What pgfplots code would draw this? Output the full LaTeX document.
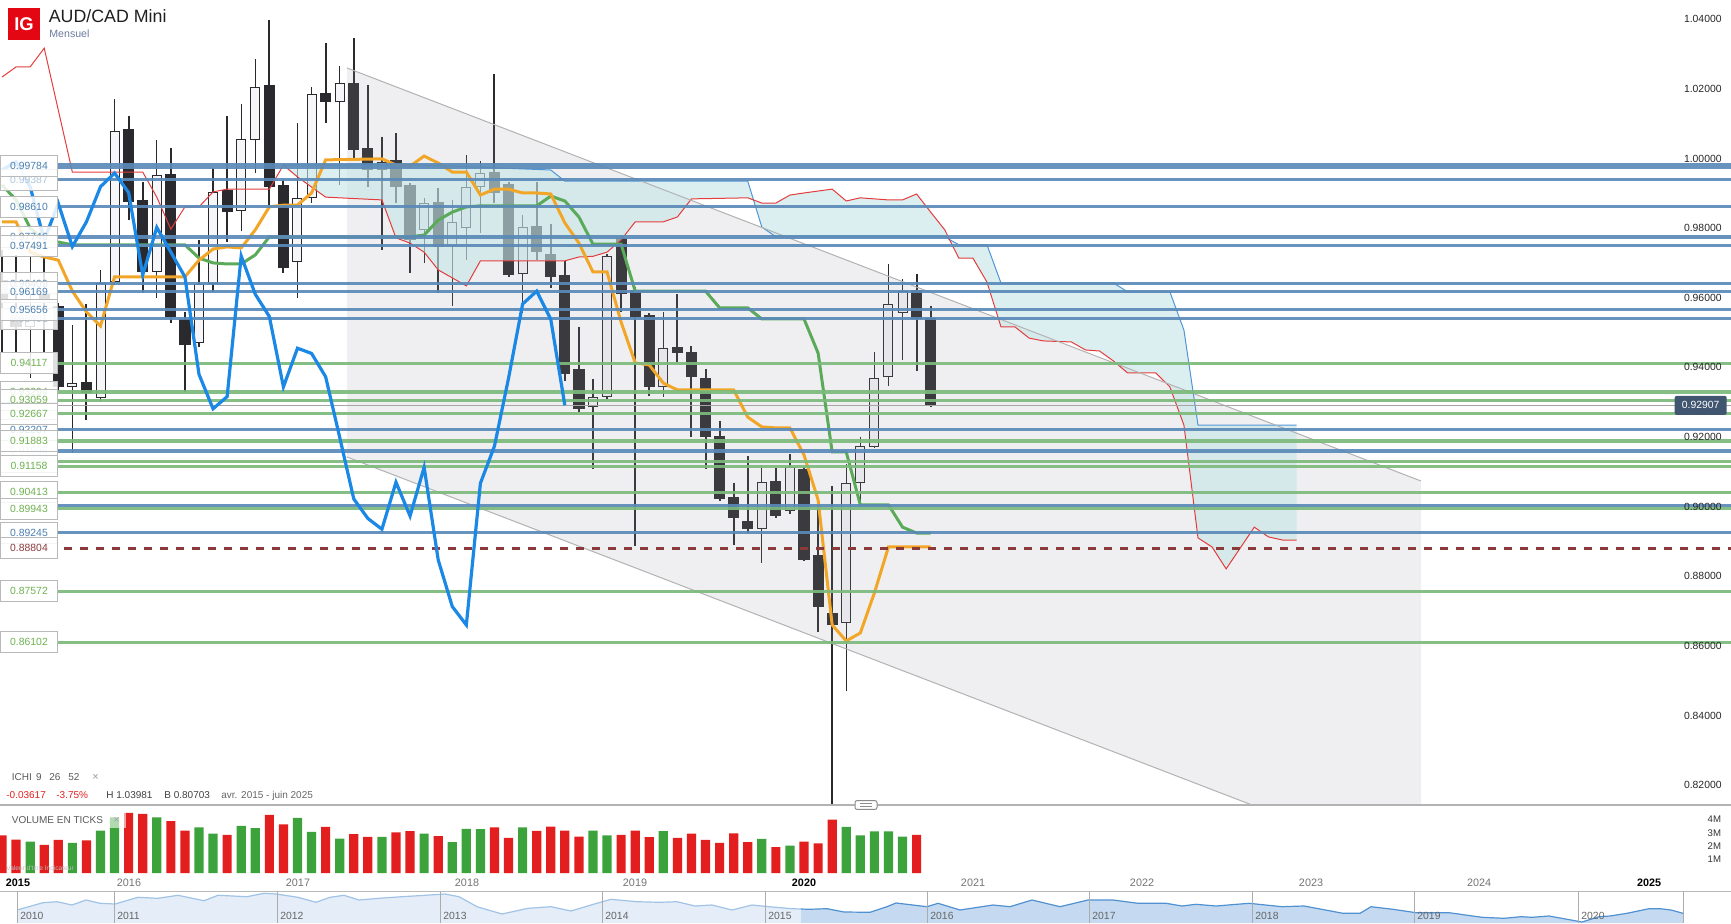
\documentclass[border=0pt]{standalone}
\usepackage{fontspec}
\setmainfont{Liberation Sans}
\usepackage{pgfplots}
\pgfplotsset{compat=1.18}

\definecolor{cblack}{RGB}{42,42,46}
\definecolor{cwhite}{RGB}{246,246,248}
\definecolor{corange}{RGB}{242,166,40}
\definecolor{ckijun}{RGB}{90,170,90}
\definecolor{cchikou}{RGB}{28,136,230}
\definecolor{cspanA}{RGB}{228,60,60}
\definecolor{cspanB}{RGB}{80,150,215}
\definecolor{ccloud}{RGB}{196,228,230}
\definecolor{cchan}{RGB}{150,150,165}
\definecolor{lblue}{RGB}{90,138,184}
\definecolor{lgreen}{RGB}{124,186,124}
\definecolor{tblue}{RGB}{74,127,176}
\definecolor{tgreen}{RGB}{110,178,80}
\definecolor{dred}{RGB}{139,58,58}
\definecolor{vgreen}{RGB}{60,163,60}
\definecolor{vred}{RGB}{227,30,30}
\definecolor{navlight}{RGB}{228,237,248}
\definecolor{navdark}{RGB}{197,218,240}
\definecolor{navl1}{RGB}{160,195,230}
\definecolor{navl2}{RGB}{80,145,210}
\definecolor{igred}{RGB}{227,6,19}
\definecolor{pricebox}{RGB}{63,85,112}

\newcommand{\fs}[1]{\fontsize{#1}{#1}\selectfont}

\newcommand{\lvl}[3]{\addplot[forget plot, line width=#2, draw=#3, opacity=0.92] coordinates {(6.908,#1) (126,#1)};}
\newcommand{\lab}[3]{\node[anchor=west, draw=gray!55, line width=0.5pt, fill=white, fill opacity=0.85, text opacity=1, minimum width=28.5pt, minimum height=10.5pt, inner sep=0pt, text=#2, font=\fs{5.2}] at (axis cs:2.857,#1) {#3};}
\newcommand{\rlab}[2]{\node[anchor=east, inner sep=0pt, text=black!85, font=\fs{5.2}] at (axis cs:125.24,#1) {#2};}

\begin{document}
\begin{tikzpicture}
\useasboundingbox (0,0) rectangle (865.5pt,461.5pt);

% ================= NAVIGATOR =================
\begin{axis}[at={(0pt,0pt)}, anchor=south west, scale only axis,
  width=865.5pt, height=16pt, xmin=0, xmax=1731, ymin=891, ymax=923,
  y dir=reverse, hide axis, clip=true]
\addplot[fill=navlight, draw=none] coordinates {(17,910) (43,902.7) (57,901.7) (72,905) (86,900) (100,903.3) (115,904) (138,897.3) (158,898.3) (178,895.3) (204,900.7) (218,895.3) (247,896.7) (264,893.3) (276,894) (298,897.3) (316,902.3) (330,897.3) (344,895.3) (359,900) (379,898.3) (402,896.7) (425,895.3) (445,894) (459,896.7) (477,906.7) (502,914) (528,908.3) (551,906.7) (571,911) (591,905) (611,899.3) (637,901.7) (660,902.3) (677,901.7) (695,906) (712,905) (732,910) (752,905) (769,906.7) (792,908.7) (801,909) (801,923) (17,923)};
\addplot[fill=navdark, draw=none] coordinates {(801,909) (809,909.3) (827,908.7) (844,912) (870,912.3) (887,906.7) (896,903) (927,906.7) (938,903.3) (960,910) (993,905) (1010,906.7) (1032,900) (1060,906.7) (1088,900) (1113,900) (1138,903.3) (1166,903.3) (1182,906) (1196,904.3) (1216,906) (1249,903.3) (1282,906.7) (1304,906) (1343,913.3) (1360,913.3) (1371,906.7) (1393,909.3) (1416,912.7) (1449,912.7) (1482,917.3) (1504,918.3) (1521,916.7) (1532,917.3) (1549,916) (1571,920) (1582,922) (1599,916.7) (1610,916) (1627,913.3) (1649,908.7) (1660,908.7) (1671,910) (1683,913.3) (1683,923) (801,923)};
\addplot[draw=navl1, line width=0.6pt] coordinates {(17,910) (43,902.7) (57,901.7) (72,905) (86,900) (100,903.3) (115,904) (138,897.3) (158,898.3) (178,895.3) (204,900.7) (218,895.3) (247,896.7) (264,893.3) (276,894) (298,897.3) (316,902.3) (330,897.3) (344,895.3) (359,900) (379,898.3) (402,896.7) (425,895.3) (445,894) (459,896.7) (477,906.7) (502,914) (528,908.3) (551,906.7) (571,911) (591,905) (611,899.3) (637,901.7) (660,902.3) (677,901.7) (695,906) (712,905) (732,910) (752,905) (769,906.7) (792,908.7) (801,909)};
\addplot[draw=navl2, line width=0.6pt] coordinates {(801,909) (809,909.3) (827,908.7) (844,912) (870,912.3) (887,906.7) (896,903) (927,906.7) (938,903.3) (960,910) (993,905) (1010,906.7) (1032,900) (1060,906.7) (1088,900) (1113,900) (1138,903.3) (1166,903.3) (1182,906) (1196,904.3) (1216,906) (1249,903.3) (1282,906.7) (1304,906) (1343,913.3) (1360,913.3) (1371,906.7) (1393,909.3) (1416,912.7) (1449,912.7) (1482,917.3) (1504,918.3) (1521,916.7) (1532,917.3) (1549,916) (1571,920) (1582,922) (1599,916.7) (1610,916) (1627,913.3) (1649,908.7) (1660,908.7) (1671,910) (1683,913.3)};
\addplot[draw=gray!55, line width=0.6pt] coordinates {(0,891.3) (1731,891.3)};
\pgfplotsinvokeforeach{17,114,277,440,602,765,927,1089,1252,1414,1578,1683}{
  \addplot[draw=gray!65, line width=0.5pt] coordinates {(#1,891.3) (#1,923)};
}
\end{axis}
\foreach \xx/\yy in {20/2010,117/2011,280/2012,443/2013,605/2014,768/2015,930/2016,1092/2017,1255/2018,1417/2019,1581/2020}{
  \node[anchor=base west, inner sep=0pt, text=black!60, font=\fs{5.2}] at (\xx*0.5pt,2pt) {\yy};
}

% ================= VOLUME =================
\begin{axis}[at={(0pt,25pt)}, anchor=south west, scale only axis,
  width=865.5pt, height=34pt, xmin=2.857, xmax=125.88, ymin=0, ymax=5.075,
  hide axis, clip=true]
\addplot[ybar, bar width=4.6pt, bar shift=0pt, fill=vgreen, draw=none] coordinates {(5,2.35) (8,2.25) (10,3.17) (11,4.16) (14,4.16) (17,3.40) (18,2.93) (20,3.52) (21,3.34) (24,4.12) (25,3.07) (27,2.57) (30,2.70) (33,2.93) (35,2.30) (36,3.30) (37,3.27) (40,3.40) (45,3.17) (46,2.80) (50,3.12) (57,2.55) (59,2.05) (63,3.45) (64,2.80) (65,3.10) (66,3.10) (67,2.72)};
\addplot[ybar, bar width=4.6pt, bar shift=0pt, fill=vred, draw=none] coordinates {(3,2.80) (4,2.50) (6,2.10) (7,2.48) (9,2.43) (12,4.49) (13,4.42) (15,3.87) (16,3.17) (19,2.85) (22,4.34) (23,3.62) (26,3.45) (28,2.90) (29,2.70) (31,3.04) (32,3.12) (34,2.75) (38,3.40) (39,2.63) (41,3.15) (42,3.47) (43,3.17) (44,2.72) (47,2.85) (48,3.17) (49,2.67) (51,2.63) (52,2.93) (53,2.48) (54,2.25) (55,2.95) (56,2.30) (58,1.93) (60,2.35) (61,2.22) (62,3.99) (68,2.85)};
\node[anchor=east, inner sep=0pt, text=black!80, font=\fs{4.8}] at (axis cs:125.2,1) {1M};
\node[anchor=east, inner sep=0pt, text=black!80, font=\fs{4.8}] at (axis cs:125.2,2) {2M};
\node[anchor=east, inner sep=0pt, text=black!80, font=\fs{4.8}] at (axis cs:125.2,3) {3M};
\node[anchor=east, inner sep=0pt, text=black!80, font=\fs{4.8}] at (axis cs:125.2,4) {4M};
\end{axis}

% ================= MAIN PRICE PANEL =================
\begin{axis}[at={(0pt,59pt)}, anchor=south west, scale only axis,
  width=865.5pt, height=402.5pt, xmin=2.857, xmax=125.88, ymin=0.81428, ymax=1.04553,
  hide axis, clip=true]

% --- black (down) candles: wicks (high-low), bodies (open-close)
\addplot[draw=cblack, line width=1pt, unbounded coords=jump, forget plot] coordinates {
(3,0.9737)(3,0.9441)(3,nan) (4,0.9723)(4,0.9441)(4,nan) (6,0.9717)(6,0.9441)(6,nan) (7,0.9585)(7,0.9335)(7,nan)
(9,0.9582)(9,0.9249)(9,nan) (12,1.0122)(12,0.9823)(12,nan) (13,0.9933)(13,0.9613)(13,nan) (15,1.0029)(15,0.9527)(15,nan)
(16,0.9560)(16,0.9330)(16,nan) (19,1.0122)(19,0.9761)(19,nan) (22,1.0398)(22,0.9866)(22,nan) (23,0.9938)(23,0.9670)(23,nan)
(26,1.0331)(26,1.0103)(26,nan) (28,1.0345)(28,0.9996)(28,nan) (29,1.0211)(29,0.9919)(29,nan) (31,1.0072)(31,0.9871)(31,nan)
(32,0.9930)(32,0.9670)(32,nan) (34,0.9914)(34,0.9613)(34,nan) (38,1.0243)(38,0.9873)(38,nan) (39,0.9933)(39,0.9660)(39,nan)
(41,0.9933)(41,0.9708)(41,nan) (42,0.9812)(42,0.9627)(42,nan) (43,0.9706)(43,0.9362)(43,nan) (44,0.9517)(44,0.9273)(44,nan)
(47,0.9777)(47,0.9560)(47,nan) (48,0.9630)(48,0.8888)(48,nan) (49,0.9556)(49,0.9318)(49,nan) (51,0.9610)(51,0.9415)(51,nan)
(52,0.9461)(52,0.9201)(52,nan) (53,0.9394)(53,0.9107)(53,nan) (54,0.9246)(54,0.9016)(54,nan) (55,0.9069)(55,0.8890)(55,nan)
(56,0.9145)(56,0.8923)(56,nan) (58,0.9112)(58,0.8966)(58,nan) (60,0.9115)(60,0.8845)(60,nan) (61,0.9002)(61,0.8641)(61,nan)
(62,0.9059)(62,0.8070)(62,nan) (68,0.9668)(68,0.9390)(68,nan) (69,0.9576)(69,0.9287)};
\addplot[draw=cblack, line width=5.6pt, unbounded coords=jump, forget plot] coordinates {
(3,0.9651)(3,0.9594)(3,nan) (4,0.9545)(4,0.9516)(4,nan) (6,0.9614)(6,0.9594)(6,nan) (7,0.9576)(7,0.9344)(7,nan)
(9,0.9358)(9,0.9326)(9,nan) (12,1.0084)(12,0.9876)(12,nan) (13,0.9881)(13,0.9675)(13,nan) (15,0.9956)(15,0.9544)(15,nan)
(16,0.9538)(16,0.9464)(16,nan) (19,0.9910)(19,0.9847)(19,nan) (22,1.0210)(22,0.9919)(22,nan) (23,0.9923)(23,0.9685)(23,nan)
(26,1.0187)(26,1.0161)(26,nan) (28,1.0216)(28,1.0024)(28,nan) (29,1.0029)(29,0.9967)(29,nan) (31,0.9996)(31,0.9919)(31,nan)
(32,0.9924)(32,0.9766)(32,nan) (34,0.9876)(34,0.9747)(34,nan) (38,0.9960)(38,0.9902)(38,nan) (39,0.9927)(39,0.9665)(39,nan)
(41,0.9806)(41,0.9731)(41,nan) (42,0.9726)(42,0.9660)(42,nan) (43,0.9665)(43,0.9380)(43,nan) (44,0.9395)(44,0.9281)(44,nan)
(47,0.9771)(47,0.9610)(47,nan) (48,0.9622)(48,0.9546)(48,nan) (49,0.9550)(49,0.9344)(49,nan) (51,0.9459)(51,0.9440)(51,nan)
(52,0.9443)(52,0.9373)(52,nan) (53,0.9369)(53,0.9199)(53,nan) (54,0.9203)(54,0.9022)(54,nan) (55,0.9027)(55,0.8966)(55,nan)
(56,0.8959)(56,0.8935)(56,nan) (58,0.9074)(58,0.8973)(58,nan) (60,0.9108)(60,0.8847)(60,nan) (61,0.8861)(61,0.8713)(61,nan)
(62,0.8694)(62,0.8660)(62,nan) (68,0.9622)(68,0.9538)(68,nan) (69,0.9541)(69,0.9291)};

% --- white (up) candles: wicks, outline body, inner fill
\addplot[draw=cblack, line width=0.6pt, unbounded coords=jump, forget plot] coordinates {
(5,0.9717)(5,0.9369)(5,nan) (8,0.9522)(8,0.9154)(8,nan) (10,0.9680)(10,0.9301)(10,nan) (11,1.0170)(11,0.9637)(11,nan)
(14,1.0053)(14,0.9598)(14,nan) (17,0.9766)(17,0.9459)(17,nan) (18,0.9972)(18,0.9617)(18,nan) (20,1.0157)(20,0.9793)(20,nan)
(21,1.0285)(21,0.9958)(21,nan) (24,1.0101)(24,0.9598)(24,nan) (25,1.0205)(25,0.9873)(25,nan) (27,1.0266)(27,0.9924)(27,nan)
(30,1.0063)(30,0.9737)(30,nan) (33,0.9886)(33,0.9699)(33,nan) (35,0.9881)(35,0.9576)(35,nan) (36,1.0010)(36,0.9708)(36,nan)
(37,0.9993)(37,0.9785)(37,nan) (40,0.9838)(40,0.9555)(40,nan) (45,0.9366)(45,0.9107)(45,nan) (46,0.9726)(46,0.9310)(46,nan)
(50,0.9560)(50,0.9316)(50,nan) (57,0.9120)(57,0.8837)(57,nan) (59,0.9151)(59,0.8979)(59,nan) (63,0.9122)(63,0.8471)(63,nan)
(64,0.9201)(64,0.9010)(64,nan) (65,0.9445)(65,0.9168)(65,nan) (66,0.9697)(66,0.9346)(66,nan) (67,0.9653)(67,0.9421)};
\addplot[draw=cblack, line width=5pt, unbounded coords=jump, forget plot] coordinates {
(5,0.9516)(5,0.9542)(5,nan) (8,0.9344)(8,0.9355)(8,nan) (10,0.9312)(10,0.9642)(10,nan) (11,0.9644)(11,1.0080)(11,nan)
(14,0.9675)(14,0.9952)(14,nan) (17,0.9469)(17,0.9640)(17,nan) (18,0.9640)(18,0.9905)(18,nan) (20,0.9850)(20,1.0055)(20,nan)
(21,1.0053)(21,1.0206)(21,nan) (24,0.9702)(24,0.9886)(24,nan) (25,0.9886)(25,1.0184)(25,nan) (27,1.0161)(27,1.0216)(27,nan)
(30,0.9967)(30,0.9990)(30,nan) (33,0.9795)(33,0.9871)(33,nan) (35,0.9749)(35,0.9818)(35,nan) (36,0.9800)(36,0.9919)(36,nan)
(37,0.9917)(37,0.9958)(37,nan) (40,0.9667)(40,0.9802)(40,nan) (45,0.9285)(45,0.9316)(45,nan) (46,0.9316)(46,0.9720)(46,nan)
(50,0.9344)(50,0.9455)(50,nan) (57,0.8935)(57,0.9070)(57,nan) (59,0.8988)(59,0.9113)(59,nan) (63,0.8665)(63,0.9067)(63,nan)
(64,0.9067)(64,0.9174)(64,nan) (65,0.9172)(65,0.9369)(65,nan) (66,0.9371)(66,0.9582)(66,nan) (67,0.9557)(67,0.9619)};
\addplot[draw=cwhite, line width=4pt, unbounded coords=jump, forget plot] coordinates {
(5,0.9519)(5,0.9539)(5,nan) (8,0.9347)(8,0.9352)(8,nan) (10,0.9315)(10,0.9639)(10,nan) (11,0.9647)(11,1.0077)(11,nan)
(14,0.9678)(14,0.9949)(14,nan) (17,0.9472)(17,0.9637)(17,nan) (18,0.9643)(18,0.9902)(18,nan) (20,0.9853)(20,1.0052)(20,nan)
(21,1.0056)(21,1.0203)(21,nan) (24,0.9705)(24,0.9883)(24,nan) (25,0.9889)(25,1.0181)(25,nan) (27,1.0164)(27,1.0213)(27,nan)
(30,0.9970)(30,0.9987)(30,nan) (33,0.9798)(33,0.9868)(33,nan) (35,0.9752)(35,0.9815)(35,nan) (36,0.9803)(36,0.9916)(36,nan)
(37,0.9920)(37,0.9955)(37,nan) (40,0.9670)(40,0.9799)(40,nan) (45,0.9288)(45,0.9313)(45,nan) (46,0.9319)(46,0.9717)(46,nan)
(50,0.9347)(50,0.9452)(50,nan) (57,0.8938)(57,0.9067)(57,nan) (59,0.8991)(59,0.9110)(59,nan) (63,0.8668)(63,0.9064)(63,nan)
(64,0.9070)(64,0.9171)(64,nan) (65,0.9175)(65,0.9366)(65,nan) (66,0.9374)(66,0.9579)(66,nan) (67,0.9560)(67,0.9616)};

% regression channel (area)
\addplot[fill=cchan, fill opacity=0.15, draw=none, forget plot] coordinates {(27.52,1.0260) (103.85,0.90735) (103.85,0.81428) (91.84,0.81428) (27.52,0.91425)};

% ichimoku cloud (span B forward, span A back)
\addplot[fill=ccloud, fill opacity=0.6, draw=none, forget plot] coordinates {(23,0.9981) (33,0.9981) (42,0.9967) (43,0.9935) (56,0.9935) (57,0.9803) (58,0.9775) (70,0.9775) (71,0.9752) (73,0.9752) (74,0.9642) (82,0.9642) (83,0.9617) (86,0.9617) (87,0.9507) (88,0.9234) (95,0.9234)
(95,0.8904) (94,0.8904) (93,0.8913) (92,0.8941) (91,0.8881) (90,0.8821) (89,0.8884) (88,0.8910) (87,0.9234) (86,0.9344) (85,0.9384) (83,0.9384) (82,0.9418) (81,0.9447) (80,0.9450) (79,0.9473) (77,0.9476) (76,0.9484) (75,0.9516) (74,0.9516) (73,0.9645) (72,0.9714) (71,0.9714) (70,0.9795) (69,0.9846) (68,0.9898) (67,0.9881) (66,0.9881) (64,0.9887) (63,0.9878) (62,0.9912) (60,0.9901) (59,0.9895) (58,0.9872) (57,0.9872) (56,0.9887) (52,0.9884) (51,0.9832) (50,0.9818) (48,0.9818) (47,0.9766) (46,0.9731) (45,0.9719) (44,0.9717) (43,0.9706) (37,0.9706) (36,0.9634) (35,0.9657) (34,0.9680) (33,0.9731) (32,0.9757) (31,0.9772) (30,0.9881) (26,0.9889) (24,0.9947) (23,0.9981)};
\addplot[draw=cspanB, line width=0.5pt, forget plot] coordinates {(23,0.9981) (33,0.9981) (42,0.9967) (43,0.9935) (56,0.9935) (57,0.9803) (58,0.9775) (70,0.9775) (71,0.9752) (73,0.9752) (74,0.9642) (82,0.9642) (83,0.9617) (86,0.9617) (87,0.9507) (88,0.9234) (95,0.9234)};
\addplot[draw=cspanA, line width=0.5pt, forget plot] coordinates {(3,1.0234) (4,1.0263) (5,1.0263) (6,1.0317) (8,0.9961) (13,0.9961) (14,0.9889) (15,0.9797) (16,0.9861) (17,0.9861) (18,0.9904) (19,0.9912) (22,0.9912) (23,0.9981) (24,0.9947) (26,0.9889) (30,0.9881) (31,0.9772) (32,0.9757) (33,0.9731) (34,0.9680) (35,0.9657) (36,0.9634) (37,0.9706) (43,0.9706) (44,0.9717) (45,0.9719) (46,0.9731) (47,0.9766) (48,0.9818) (50,0.9818) (51,0.9832) (52,0.9884) (56,0.9887) (57,0.9872) (58,0.9872) (59,0.9895) (60,0.9901) (62,0.9912) (63,0.9878) (64,0.9887) (66,0.9881) (67,0.9881) (68,0.9898) (69,0.9846) (70,0.9795) (71,0.9714) (72,0.9714) (73,0.9645) (74,0.9516) (75,0.9516) (76,0.9484) (77,0.9476) (79,0.9473) (80,0.9450) (81,0.9447) (82,0.9418) (83,0.9384) (85,0.9384) (86,0.9344) (87,0.9234) (88,0.8910) (89,0.8884) (90,0.8821) (91,0.8881) (92,0.8941) (93,0.8913) (94,0.8904) (95,0.8904)};

% channel border lines
\addplot[draw=black!30, line width=0.5pt, forget plot] coordinates {(27.52,1.0260) (103.85,0.90735)};
\addplot[draw=black!30, line width=0.5pt, forget plot] coordinates {(27.52,0.91425) (91.84,0.81428)};
% last price line
\addplot[draw=black!35, line width=0.5pt, forget plot] coordinates {(6.908,0.92907) (126,0.92907)};

% Kijun and Tenkan
\addplot[draw=ckijun, line width=1.5pt, forget plot] coordinates {(3,0.9924) (4,0.9881) (5,0.9800) (6,0.9766) (7,0.9760) (8,0.9752) (16,0.9752) (17,0.9714) (18,0.9700) (19,0.9697) (20,0.9697) (21,0.9723) (22,0.9775) (32,0.9775) (33,0.9780) (34,0.9823) (35,0.9846) (36,0.9861) (37,0.9864) (41,0.9864) (42,0.9892) (43,0.9878) (44,0.9832) (45,0.9754) (47,0.9754) (48,0.9619) (53,0.9619) (54,0.9571) (56,0.9571) (57,0.9539) (60,0.9539) (61,0.9441) (62,0.9157) (63,0.9157) (64,0.9005) (66,0.9005) (67,0.8941) (68,0.8924) (69,0.8924)};
\addplot[draw=corange, line width=1.5pt, forget plot] coordinates {(3,0.9818) (4,0.9818) (5,0.9731) (6,0.9717) (7,0.9708) (8,0.9619) (9,0.9559) (10,0.9519) (11,0.9660) (16,0.9660) (17,0.9708) (18,0.9740) (19,0.9746) (20,0.9743) (21,0.9795) (22,0.9861) (23,0.9866) (24,0.9866) (25,0.9901) (26,0.9996) (30,0.9999) (31,0.9981) (32,0.9978) (33,1.0007) (34,0.9987) (35,0.9961) (36,0.9961) (37,0.9895) (38,0.9912) (39,0.9912) (40,0.9901) (41,0.9901) (42,0.9898) (43,0.9815) (44,0.9757) (45,0.9674) (46,0.9674) (47,0.9530) (48,0.9413) (49,0.9407) (50,0.9355) (51,0.9335) (55,0.9335) (56,0.9257) (57,0.9229) (58,0.9226) (59,0.9226) (60,0.9148) (61,0.9019) (62,0.8660) (63,0.8614) (64,0.8637) (65,0.8752) (66,0.8884) (69,0.8884)};

% horizontal levels
\lvl{0.99784}{2.8pt}{lblue}
\lvl{0.99387}{1.6pt}{lblue}
\lvl{0.98610}{1.6pt}{lblue}
\lvl{0.97746}{1.6pt}{lblue}
\lvl{0.97491}{1.6pt}{lblue}
\lvl{0.96409}{1.6pt}{lblue}
\lvl{0.96169}{1.6pt}{lblue}
\lvl{0.95656}{1.6pt}{lblue}
\lvl{0.95401}{1.6pt}{lblue}
\lvl{0.92207}{1.6pt}{lblue}
\lvl{0.91595}{1.6pt}{lblue}
\lvl{0.90026}{1.6pt}{lblue}
\lvl{0.89245}{1.6pt}{lblue}
\lvl{0.94117}{1.6pt}{lgreen}
\lvl{0.93294}{1.6pt}{lgreen}
\lvl{0.93059}{1.6pt}{lgreen}
\lvl{0.92667}{1.6pt}{lgreen}
\lvl{0.91883}{1.6pt}{lgreen}
\lvl{0.91295}{1.6pt}{lgreen}
\lvl{0.91158}{1.6pt}{lgreen}
\lvl{0.90413}{1.6pt}{lgreen}
\lvl{0.89943}{1.6pt}{lgreen}
\lvl{0.87572}{1.6pt}{lgreen}
\lvl{0.86102}{1.6pt}{lgreen}
\addplot[forget plot, draw=dred, line width=1.5pt, dash pattern=on 4pt off 4pt] coordinates {(7.41,0.88804) (126,0.88804)};

% Chikou span
\addplot[draw=cchikou, line width=1.6pt, forget plot] coordinates {(3,0.9967) (4,0.9990) (5,0.9919) (6,0.9766) (7,0.9871) (8,0.9747) (9,0.9818) (10,0.9919) (11,0.9958) (12,0.9902) (13,0.9665) (14,0.9802) (15,0.9731) (16,0.9660) (17,0.9380) (18,0.9281) (19,0.9316) (20,0.9720) (21,0.9610) (22,0.9546) (23,0.9344) (24,0.9455) (25,0.9440) (26,0.9373) (27,0.9199) (28,0.9022) (29,0.8966) (30,0.8935) (31,0.9070) (32,0.8973) (33,0.9113) (34,0.8847) (35,0.8713) (36,0.8660) (37,0.9067) (38,0.9174) (39,0.9369) (40,0.9582) (41,0.9619) (42,0.9538) (43,0.9291)};

% left level labels (hidden ones first)
\lab{0.99387}{tblue!45}{0.99387}
\lab{0.97746}{tblue}{0.97746}
\lab{0.96409}{tblue}{0.96409}
\lab{0.95401}{tblue!45}{0.95401}
\lab{0.93294}{tgreen}{0.93294}
\lab{0.92207}{tblue}{0.92207}
\lab{0.91595}{tblue!40}{0.91595}
\lab{0.91295}{tgreen!40}{0.91295}
\lab{0.99784}{tblue}{0.99784}
\lab{0.98610}{tblue}{0.98610}
\lab{0.97491}{tblue}{0.97491}
\lab{0.96169}{tblue}{0.96169}
\lab{0.95656}{tblue}{0.95656}
\lab{0.94117}{tgreen}{0.94117}
\lab{0.93059}{tgreen}{0.93059}
\lab{0.92667}{tgreen}{0.92667}
\lab{0.91883}{tgreen}{0.91883}
\lab{0.91158}{tgreen}{0.91158}
\lab{0.90413}{tgreen}{0.90413}
\lab{0.89943}{tgreen}{0.89943}
\lab{0.89245}{tblue}{0.89245}
\lab{0.88804}{dred}{0.88804}
\lab{0.87572}{tgreen}{0.87572}
\lab{0.86102}{tgreen}{0.86102}

% right price scale
\rlab{1.04}{1.04000}
\rlab{1.02}{1.02000}
\rlab{1.00}{1.00000}
\rlab{0.98}{0.98000}
\rlab{0.96}{0.96000}
\rlab{0.94}{0.94000}
\rlab{0.92}{0.92000}
\rlab{0.90}{0.90000}
\rlab{0.88}{0.88000}
\rlab{0.86}{0.86000}
\rlab{0.84}{0.84000}
\rlab{0.82}{0.82000}
\node[anchor=east, fill=pricebox, rounded corners=1pt, minimum width=26pt, minimum height=9.5pt, inner sep=0pt, text=white, font=\fs{5.2}] at (axis cs:125.6,0.92907) {0.92907};
\end{axis}

% ================= decorations =================
\draw[black!30, line width=0.6pt] (0,59pt) -- (865.5pt,59pt);
\draw[black!45, fill=white, rounded corners=1pt, line width=0.5pt] (427.5pt,56.8pt) rectangle (438.5pt,61.2pt);
\draw[black!45, line width=0.4pt] (430pt,58.3pt) -- (436pt,58.3pt) (430pt,59.7pt) -- (436pt,59.7pt);

% title
\fill[igred] (4pt,441.5pt) rectangle (20pt,457.5pt);
\node[text=white, font=\fs{9.2}\bfseries, inner sep=0pt] at (12pt,449.3pt) {IG};
\node[anchor=base west, inner sep=0pt, text=black!88, font=\fs{8.9}] at (24.2pt,450pt) {AUD/CAD Mini};
\node[anchor=base west, inner sep=0pt, text={rgb,255:red,106;green,122;blue,156}, font=\fs{5.3}] at (24.5pt,442.8pt) {Mensuel};

% indicator legend texts
\node[anchor=base west, inner sep=0pt, text=black!65, font=\fs{5}] at (5.75pt,71.5pt) {ICHI};
\node[anchor=base west, inner sep=0pt, text=black!65, font=\fs{5}] at (17.8pt,71.5pt) {9};
\node[anchor=base west, inner sep=0pt, text=black!65, font=\fs{5}] at (24.5pt,71.5pt) {26};
\node[anchor=base west, inner sep=0pt, text=black!65, font=\fs{5}] at (34pt,71.5pt) {52};
\node[anchor=base west, inner sep=0pt, text=black!40, font=\fs{5.5}] at (46pt,71.5pt) {×};
\node[anchor=base west, inner sep=0pt, text=vred, font=\fs{5}] at (3pt,62.2pt) {-0.03617};
\node[anchor=base west, inner sep=0pt, text=vred, font=\fs{5}] at (28pt,62.2pt) {-3.75\%};
\node[anchor=base west, inner sep=0pt, text=black!75, font=\fs{5}] at (53pt,62.2pt) {H 1.03981};
\node[anchor=base west, inner sep=0pt, text=black!75, font=\fs{5}] at (82pt,62.2pt) {B 0.80703};
\node[anchor=base west, inner sep=0pt, text=black!60, font=\fs{5}] at (110.5pt,62.2pt) {avr. 2015 - juin 2025};

\fill[white, opacity=0.6] (3pt,47.5pt) rectangle (63pt,55.5pt);
\node[anchor=base west, inner sep=0pt, text=black!65, font=\fs{5}] at (5.75pt,49.85pt) {VOLUME EN TICKS};
\node[anchor=base west, inner sep=0pt, text=black!35, font=\fs{5.5}] at (56.5pt,49.85pt) {×};
\node[anchor=base west, inner sep=0pt, text=black!25, font=\fs{3.3}] at (3pt,26.5pt) {Valeur d'titre Indicateur};

% time axis labels
\node[anchor=base, inner sep=0pt, text=black, font=\fs{5.4}\bfseries] at (9pt,18.5pt) {2015};
\foreach \xx/\yy in {64.5/2016,149/2017,233.5/2018,317.5/2019,486.5/2021,571/2022,655.5/2023,739.5/2024}{
  \node[anchor=base, inner sep=0pt, text=black!55, font=\fs{5.4}] at (\xx pt,18.5pt) {\yy};
}
\node[anchor=base, inner sep=0pt, text=black, font=\fs{5.4}\bfseries] at (402pt,18.5pt) {2020};
\node[anchor=base, inner sep=0pt, text=black, font=\fs{5.4}\bfseries] at (824.5pt,18.5pt) {2025};
\end{tikzpicture}
\end{document}
